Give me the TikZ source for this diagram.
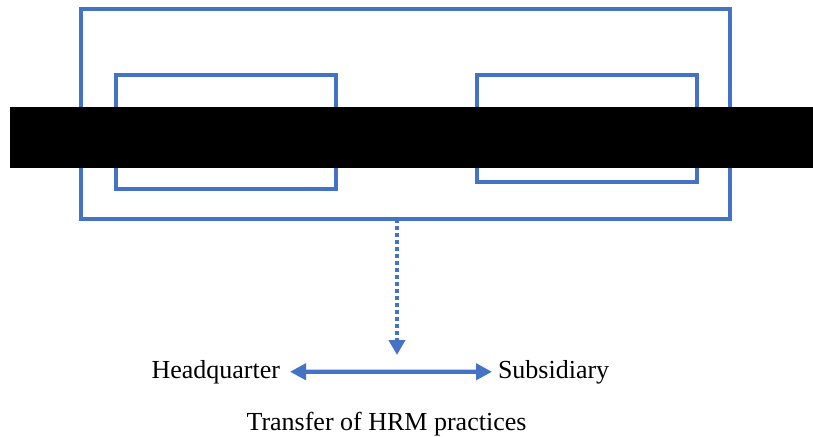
\documentclass[tikz,border=0pt]{standalone}
\usepackage{fontspec}
\setmainfont{Liberation Serif}
\usetikzlibrary{arrows.meta}
\definecolor{officeblue}{HTML}{4472C4}
\begin{document}
\begin{tikzpicture}[x=1pt,y=-1pt,
  frame/.style={draw=officeblue, line width=3.8pt, rectangle, inner sep=0pt, outer sep=0pt},
  label/.style={font=\fontsize{26}{30}\selectfont, inner sep=0pt, outer sep=0pt},
  link/.style={draw=officeblue, line width=3.8pt, -{Triangle[length=15pt,width=16pt]}},
  duallink/.style={draw=officeblue, line width=4.2pt, {Triangle[length=16pt,width=16pt]}-{Triangle[length=16pt,width=16pt]}}]
  \useasboundingbox (0,0) rectangle (813,436);

  % enclosing frame and the two inner units
  \node[frame, minimum width=649pt, minimum height=210pt] (outer) at (405.5,114) {};
  \node[frame, minimum width=220pt, minimum height=114pt] (left) at (226,132) {};
  \node[frame, minimum width=220pt, minimum height=107pt] (right) at (587,128.5) {};

  % solid bar across the frame
  \fill[black] (10,107) rectangle (813,168);

  % labels
  \node[label, anchor=base east] (hq) at (280,378) {Headquarter};
  \node[label, anchor=base west] (sub) at (498,378) {Subsidiary};
  \node[label, anchor=base] (transfer) at (386.5,430) {Transfer of HRM practices};

  % dotted link down to the exchange
  \coordinate (tip) at (397,355);
  \draw[link, dash pattern=on 4pt off 3pt] (tip |- outer.south) -- (tip);

  % two-way exchange
  \draw[duallink, shorten <=10pt, shorten >=6pt] (hq.east) -- (sub.west);
\end{tikzpicture}
\end{document}
